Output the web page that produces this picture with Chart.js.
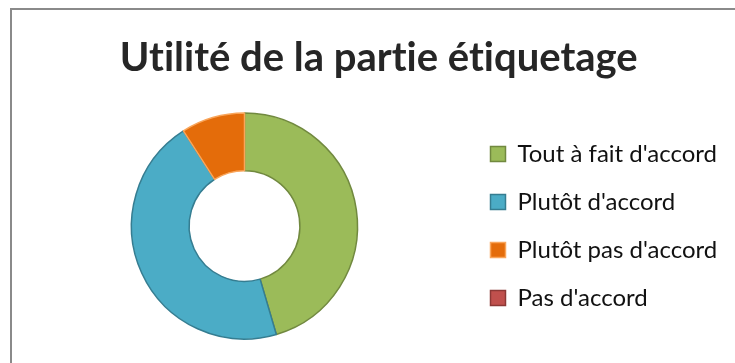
<!DOCTYPE html>
<html>
<head>
<meta charset="utf-8">
<script src="https://cdn.jsdelivr.net/npm/chart.js@4.4.0/dist/chart.umd.min.js"></script>
<style>
    html, body { margin: 0; padding: 0; background: #fff; }
    #wrap { position: relative; width: 735px; height: 363px; overflow: hidden; }
    #frame { position: absolute; left: 10px; top: 8px; width: 800px; height: 420px; border: 2px solid #8a8a8a; box-sizing: border-box; }
    #pieChart { position: absolute; left: 0; top: 0; }
</style>
</head>
<body>
<div id="wrap">
    <div id="frame"></div>
    <canvas id="pieChart" width="735" height="363"></canvas>
</div>
<script>
const chartTitle = "Utilité de la partie étiquetage";
const categories = ["Tout à fait d'accord", "Plutôt d'accord", "Plutôt pas d'accord", "Pas d'accord"];
const answers = [10, 10, 2, 0];
const fillColors = ['#9bbb59', '#4bacc6', '#e46c0a', '#c0504d'];
const edgeColors = ['#71893f', '#357d91', '#f9a55a', '#8c3836'];

// keep the legend column wide so the ring sits left of it
const legendWidth = {
    id: 'legendWidth',
    beforeLayout(chart) {
        const legend = chart.legend;
        if (!legend || legend._wideFit) return;
        const fit = legend.fit;
        legend.fit = function () {
            fit.call(this);
            this.width = 268.5;
        };
        legend._wideFit = true;
    },
    beforeDraw(chart) {
        // no "ti" ligature in the title
        chart.ctx.textRendering = 'optimizeSpeed';
    }
};

const ctx = document.getElementById('pieChart').getContext('2d');
new Chart(ctx, {
    type: 'doughnut',
    data: {
        labels: categories,
        datasets: [{
            data: answers,
            backgroundColor: fillColors,
            borderColor: edgeColors,
            borderWidth: 1.5,
            radius: 113,
            cutout: '49%'
        }]
    },
    options: {
        responsive: false,
        animation: false,
        layout: {
            padding: { left: 22.5, right: 0, top: 0, bottom: 11.4 }
        },
        plugins: {
            title: {
                display: true,
                text: chartTitle,
                color: '#262626',
                font: { family: 'Lato', size: 40, weight: 'bold', lineHeight: 1.2 },
                padding: { top: 33.6, bottom: 18.8 }
            },
            legend: {
                position: 'right',
                fullSize: false,
                labels: {
                    boxWidth: 15,
                    boxHeight: 15,
                    padding: 24,
                    color: '#111',
                    font: { family: 'Lato', size: 24 }
                }
            },
            tooltip: { enabled: false }
        }
    },
    plugins: [legendWidth]
});
</script>
</body>
</html>
